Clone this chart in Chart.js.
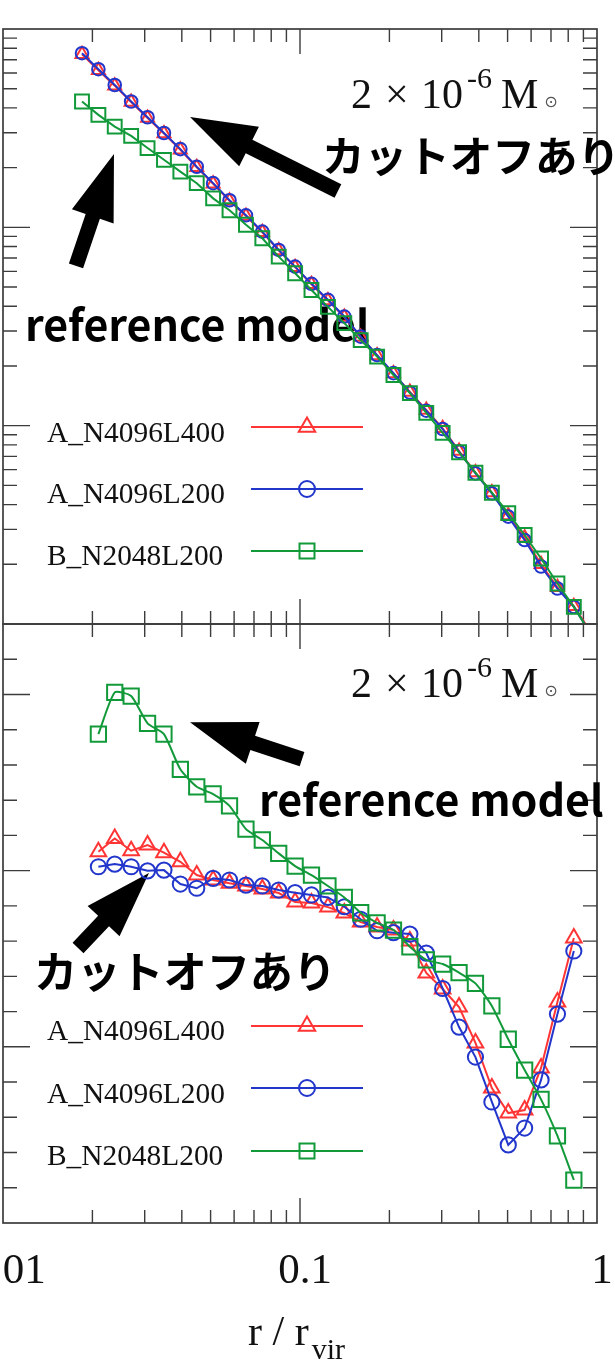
<!DOCTYPE html>
<html>
<head>
<meta charset="utf-8">
<script src="https://cdn.jsdelivr.net/npm/chart.js@4/dist/chart.umd.min.js"></script>
<style>
html,body{margin:0;padding:0;background:#fff;}
#wrap{position:relative;width:615px;height:1363px;overflow:hidden;}
canvas{position:absolute;left:0;top:0;}
</style>
</head>
<body>
<div id="wrap">
<canvas id="c1" width="615" height="1363" style="width:615px;height:1363px"></canvas>
<canvas id="c2" width="615" height="1363" style="width:615px;height:1363px"></canvas>
</div>
<script>
// ---------------- data ----------------
const seriesLabels = ['A_N4096L400', 'A_N4096L200', 'B_N2048L200'];

// upper panel (log-log profile); last entry is the line continuing past the frame
const rTop = [0.01845, 0.02095, 0.02378, 0.02701, 0.03067, 0.03483, 0.03955, 0.04491, 0.05099, 0.05790,
              0.06577, 0.07467, 0.08479, 0.09629, 0.1093, 0.1242, 0.1410, 0.1601, 0.1818, 0.2064,
              0.2344, 0.2662, 0.3022, 0.3432, 0.3897, 0.4426, 0.5026, 0.5707, 0.6481, 0.7359, 0.8356, 0.9489];
const topA400 = [745, 620, 518, 428, 356, 297, 246, 201, 166, 136,
                 114, 94.5, 76.5, 63.0, 51.6, 42.8, 35.3, 28.0, 22.6, 18.3,
                 14.8, 12.0, 9.70, 7.45, 5.80, 4.60, 3.52, 2.72, 2.00, 1.53, 1.23, 0.92];
const topA200 = [755, 627, 522, 431, 359, 299, 248, 202, 167, 137,
                 115, 95.1, 76.9, 63.4, 51.9, 43.1, 35.5, 28.1, 22.7, 18.4,
                 14.7, 11.9, 9.62, 7.40, 5.75, 4.56, 3.48, 2.65, 1.95, 1.51, 1.22, 0.90];
const topB200 = [431, 369, 322, 289, 251, 219, 191, 167, 140, 122,
                 103, 88.1, 71.2, 58.7, 48.3, 39.7, 32.9, 27.0, 22.3, 18.0,
                 14.6, 11.6, 9.19, 7.34, 5.79, 4.59, 3.62, 2.81, 2.14, 1.60, 1.22, 0.90];

// lower panel (linear y)
const rBottom = [0.02095, 0.02378, 0.02701, 0.03067, 0.03483, 0.03955, 0.04491, 0.05099, 0.05790, 0.06577,
                 0.07467, 0.08479, 0.09629, 0.1093, 0.1242, 0.1410, 0.1601, 0.1818, 0.2064, 0.2344,
                 0.2662, 0.3022, 0.3432, 0.3897, 0.4426, 0.5026, 0.5707, 0.6481, 0.7359, 0.8356];
const botA400 = [2.107, 2.183, 2.113, 2.145, 2.102, 2.050, 1.975, 1.947, 1.928, 1.913,
                 1.896, 1.873, 1.822, 1.816, 1.793, 1.759, 1.708, 1.680, 1.663, 1.600,
                 1.419, 1.328, 1.226, 1.022, 0.766, 0.624, 0.641, 0.880, 1.254, 1.617];
const botA200 = [2.022, 2.037, 2.022, 1.999, 2.003, 1.924, 1.900, 1.956, 1.947, 1.918,
                 1.913, 1.890, 1.875, 1.862, 1.848, 1.795, 1.724, 1.659, 1.648, 1.640,
                 1.532, 1.331, 1.112, 0.942, 0.687, 0.443, 0.539, 0.812, 1.186, 1.544];
const botB200 = [2.775, 3.012, 2.991, 2.836, 2.775, 2.575, 2.476, 2.435, 2.368, 2.236,
                 2.174, 2.098, 2.026, 1.975, 1.913, 1.848, 1.761, 1.704, 1.663, 1.568,
                 1.493, 1.470, 1.421, 1.360, 1.232, 1.043, 0.868, 0.702, 0.494, 0.244];

const xTickValues = [0.01, 0.1, 1];
const xTickLabels = ['0.01', '0.1', '1'];
const xTitleMain = 'r / r';
const xTitleSub = 'vir';
const noteCutoff = 'カットオフあり';
const noteReference = 'reference model';

// arrows in data coordinates [tailX, tailY, tipX, tipY]
const topArrows = [[0.1342, 152.6, 0.04263, 360.3], [0.01761, 63.9, 0.02364, 234.5]];
const botArrows = [[0.1016, 2.633, 0.04263, 2.843], [0.01789, 1.561, 0.03101, 1.986]];

// ---------------- styles ----------------
const RED = '#ff3535', BLUE = '#2236cc', GREEN = '#129a3a';
const SERIF = '"Liberation Serif","Times New Roman",serif';
const CJK = '"Noto Sans CJK JP","Noto Sans",sans-serif';
const FRAME = '#3c3c3c';

const pts = (xs, ys) => xs.map((x, i) => ({x: x, y: ys[i]}));

function mk(label, data, color, style, radius, order, tension, lastHidden) {
  return {
    label, data, order,
    borderColor: color, backgroundColor: 'rgba(0,0,0,0)',
    borderWidth: 2, tension: tension || 0, fill: false,
    pointStyle: style,
    pointRadius: data.map((_, i) => (lastHidden && i === data.length - 1) ? 0 : radius),
    pointBorderColor: color, pointBackgroundColor: 'rgba(0,0,0,0)', pointBorderWidth: 2
  };
}

// ---------------- drawing helpers ----------------
function logTicks(min, max) {
  const out = [];
  for (let e = Math.round(Math.log10(min)); e < Math.round(Math.log10(max)); e++) {
    for (let k = 1; k < 10; k++) out.push({v: k * Math.pow(10, e), major: k === 1});
  }
  out.push({v: max, major: true});
  return out;
}
function linTicks(min, max, step, majorEvery) {
  const out = [];
  const n = Math.round((max - min) / step);
  for (let i = 0; i <= n; i++) out.push({v: min + i * step, major: i % majorEvery === 0});
  return out;
}
function drawFrame(chart, xt, yt) {
  const {ctx, chartArea: {left, right, top, bottom}, scales: {x, y}} = chart;
  ctx.save();
  ctx.strokeStyle = FRAME; ctx.lineWidth = 1.4;
  ctx.beginPath();
  for (const t of xt) {
    const px = x.getPixelForValue(t.v);
    if (px <= left + 1 || px >= right - 1) continue;
    const L = t.major ? 25 : 13;
    ctx.moveTo(px, top); ctx.lineTo(px, top + L);
    ctx.moveTo(px, bottom); ctx.lineTo(px, bottom - L);
  }
  for (const t of yt) {
    const py = y.getPixelForValue(t.v);
    if (py <= top + 1 || py >= bottom - 1) continue;
    const L = t.major ? 27 : 14;
    ctx.moveTo(left, py); ctx.lineTo(left + L, py);
    ctx.moveTo(right, py); ctx.lineTo(right - L, py);
  }
  ctx.stroke();
  ctx.lineWidth = 1.7;
  ctx.strokeRect(left, top, right - left, bottom - top);
  ctx.restore();
}
function drawArrow(ctx, tx, ty, hx, hy) {
  const shaft = 15, headLen = 66, headHalf = 22;
  const dx = hx - tx, dy = hy - ty, L = Math.hypot(dx, dy);
  const ux = dx / L, uy = dy / L, nx = -uy, ny = ux;
  const bx = hx - ux * headLen, by = hy - uy * headLen;
  ctx.beginPath();
  ctx.moveTo(tx + nx * shaft / 2, ty + ny * shaft / 2);
  ctx.lineTo(bx + nx * shaft / 2, by + ny * shaft / 2);
  ctx.lineTo(bx + nx * headHalf, by + ny * headHalf);
  ctx.lineTo(hx, hy);
  ctx.lineTo(bx - nx * headHalf, by - ny * headHalf);
  ctx.lineTo(bx - nx * shaft / 2, by - ny * shaft / 2);
  ctx.lineTo(tx - nx * shaft / 2, ty - ny * shaft / 2);
  ctx.closePath();
  ctx.fill();
}
function arrows(chart, list) {
  const {ctx, scales: {x, y}} = chart;
  ctx.save(); ctx.fillStyle = '#000';
  for (const a of list) drawArrow(ctx, x.getPixelForValue(a[0]), y.getPixelForValue(a[1]), x.getPixelForValue(a[2]), y.getPixelForValue(a[3]));
  ctx.restore();
}
// draw text so that its ink spans [inkLeft, inkRight] and its ink bottom sits at inkBottom
function fittedText(ctx, text, weight, family, inkLeft, inkRight, inkBottom) {
  ctx.font = `${weight} 100px ${family}`;
  const m = ctx.measureText(text);
  const w = m.actualBoundingBoxLeft + m.actualBoundingBoxRight;
  const size = 100 * (inkRight - inkLeft) / w;
  ctx.font = `${weight} ${size.toFixed(2)}px ${family}`;
  const m2 = ctx.measureText(text);
  ctx.textBaseline = 'alphabetic'; ctx.textAlign = 'left';
  ctx.fillText(text, inkLeft + m2.actualBoundingBoxLeft, inkBottom - m2.actualBoundingBoxDescent);
  return size;
}
function massNote(ctx, base) {
  ctx.save();
  ctx.fillStyle = '#111'; ctx.textBaseline = 'alphabetic'; ctx.textAlign = 'left';
  ctx.font = `42px ${SERIF}`;
  ctx.fillText('2', 351, base);
  ctx.fillText('\u00d7', 385, base);
  ctx.fillText('10', 421, base);
  ctx.font = `30px ${SERIF}`;
  ctx.fillText('-6', 467, base - 20);
  ctx.font = `42px ${SERIF}`;
  ctx.fillText('M', 501, base);
  ctx.font = `16px "DejaVu Sans",sans-serif`;
  ctx.textAlign = 'center'; ctx.textBaseline = 'middle';
  ctx.fillStyle = '#555';
  ctx.fillText('\u2299', 551, base - 5);
  ctx.restore();
}
function marker(ctx, style, cx, cy, r) {
  ctx.beginPath();
  if (style === 'triangle') {
    ctx.moveTo(cx, cy - r);
    ctx.lineTo(cx + 0.866 * r, cy + 0.5 * r);
    ctx.lineTo(cx - 0.866 * r, cy + 0.5 * r);
    ctx.closePath();
  } else if (style === 'circle') {
    ctx.arc(cx, cy, r, 0, Math.PI * 2);
  } else {
    const s = Math.SQRT1_2 * r;
    ctx.rect(cx - s, cy - s, 2 * s, 2 * s);
  }
  ctx.stroke();
}
function legend(chart, lineYs, textBottoms, radii) {
  const ctx = chart.ctx;
  ctx.save();
  ctx.fillStyle = '#111';
  ctx.font = '100px ' + SERIF;
  const m = ctx.measureText(seriesLabels[0]);
  const size = 100 * (224 - 47) / (m.actualBoundingBoxLeft + m.actualBoundingBoxRight);
  ctx.font = `${size.toFixed(2)}px ${SERIF}`;
  ctx.textBaseline = 'alphabetic'; ctx.textAlign = 'left';
  chart.data.datasets.forEach((ds, i) => {
    const mm = ctx.measureText(ds.label);
    ctx.fillText(ds.label, 47 + mm.actualBoundingBoxLeft, textBottoms[i]);
    ctx.strokeStyle = ds.borderColor; ctx.lineWidth = 2;
    ctx.beginPath(); ctx.moveTo(251, lineYs[i]); ctx.lineTo(363, lineYs[i]); ctx.stroke();
    marker(ctx, ds.pointStyle, 307, lineYs[i], radii[i]);
  });
  ctx.restore();
}

// ---------------- upper panel ----------------
const topDecor = {
  id: 'topDecor',
  beforeDatasetsDraw(chart) {
    const ctx = chart.ctx;
    drawFrame(chart, logTicks(0.01, 1), logTicks(1, 1000));
    massNote(ctx, 108);
    ctx.save(); ctx.fillStyle = '#000';
    fittedText(ctx, noteCutoff, 'bold', CJK, 325, 612, 177);
    fittedText(ctx, noteReference, 'bold', CJK, 28, 369, 342);
    ctx.restore();
    arrows(chart, topArrows);
    legend(chart, [427, 489, 551], [442, 503, 565], [9.5, 8, 10.6]);
  }
};

new Chart(document.getElementById('c1'), {
  type: 'line',
  data: {
    datasets: [
      mk(seriesLabels[0], pts(rTop, topA400), RED, 'triangle', 7.5, 3, 0, true),
      mk(seriesLabels[1], pts(rTop, topA200), BLUE, 'circle', 6.3, 2, 0, true),
      mk(seriesLabels[2], pts(rTop, topB200), GREEN, 'rect', 9.8, 1, 0, true)
    ]
  },
  options: {
    responsive: false, animation: false, events: [],
    layout: {autoPadding: false, padding: {left: 3, right: 18, top: 29, bottom: 739}},
    scales: {
      x: {type: 'logarithmic', min: 0.01, max: 1, display: false},
      y: {type: 'logarithmic', min: 1, max: 1000, display: false}
    },
    plugins: {legend: {display: false}, tooltip: {enabled: false}}
  },
  plugins: [topDecor]
});

// ---------------- lower panel ----------------
const botDecor = {
  id: 'botDecor',
  beforeDatasetsDraw(chart) {
    const ctx = chart.ctx;
    const {x} = chart.scales;
    drawFrame(chart, logTicks(0.01, 1), linTicks(0, 3.4, 0.2, 5));
    massNote(ctx, 697);
    ctx.save(); ctx.fillStyle = '#000';
    fittedText(ctx, noteReference, 'bold', CJK, 262, 603, 817);
    fittedText(ctx, noteCutoff, 'bold', CJK, 37, 328, 992);
    ctx.restore();
    arrows(chart, botArrows);
    legend(chart, [1026, 1088, 1151], [1040, 1103, 1165], [9.5, 8, 10.6]);
    // x tick labels and title
    ctx.save();
    ctx.fillStyle = '#111';
    ctx.font = `43px ${SERIF}`;
    ctx.textAlign = 'center'; ctx.textBaseline = 'alphabetic';
    xTickValues.forEach((v, i) => ctx.fillText(xTickLabels[i], x.getPixelForValue(v) + 5, 1283));
    ctx.textAlign = 'left';
    ctx.font = `42px ${SERIF}`;
    ctx.fillText(xTitleMain, 248, 1345);
    const w = ctx.measureText(xTitleMain).width;
    ctx.font = `30px ${SERIF}`;
    ctx.fillText(xTitleSub, 248 + w + 3, 1359);
    ctx.restore();
  }
};

new Chart(document.getElementById('c2'), {
  type: 'line',
  data: {
    datasets: [
      mk(seriesLabels[0], pts(rBottom, botA400), RED, 'triangle', 9, 3, 0, false),
      mk(seriesLabels[1], pts(rBottom, botA200), BLUE, 'circle', 7.6, 2, 0, false),
      mk(seriesLabels[2], pts(rBottom, botB200), GREEN, 'rect', 10.8, 1, 0.2, false)
    ]
  },
  options: {
    responsive: false, animation: false, events: [],
    layout: {autoPadding: false, padding: {left: 3, right: 18, top: 624, bottom: 140}},
    scales: {
      x: {type: 'logarithmic', min: 0.01, max: 1, display: false},
      y: {type: 'linear', min: 0, max: 3.4, display: false}
    },
    plugins: {legend: {display: false}, tooltip: {enabled: false}}
  },
  plugins: [botDecor]
});
</script>
</body>
</html>
